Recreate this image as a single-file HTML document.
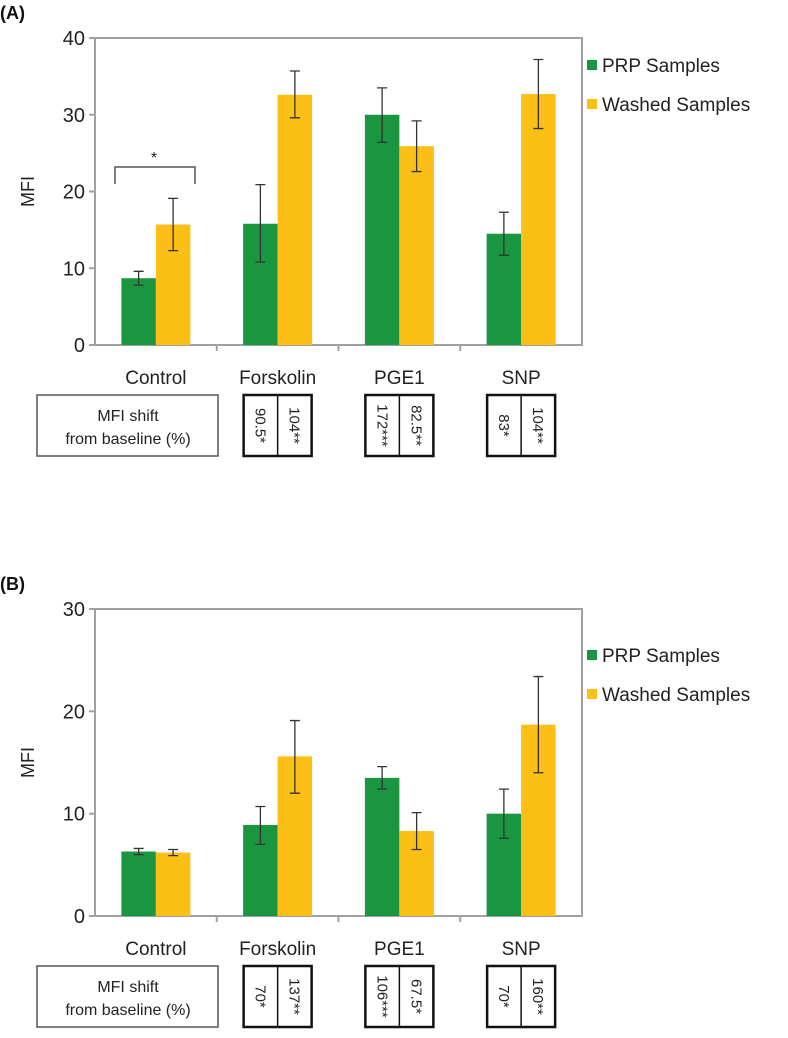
<!DOCTYPE html>
<html><head><meta charset="utf-8"><style>
body{margin:0;background:#fff;font-family:"Liberation Sans",Arial,sans-serif;}
svg text{font-family:"Liberation Sans",Arial,sans-serif;}
</style></head><body>
<svg id="s" width="788" height="1033" viewBox="0 0 788 1033"></svg>
<script>
const categories=["Control","Forskolin","PGE1","SNP"];
const aPrp=[8.7,15.8,30,14.5];
const aPrpLo=[7.8,10.8,26.4,11.7];
const aPrpHi=[9.6,20.9,33.5,17.3];
const aWash=[15.7,32.6,25.9,32.7];
const aWashLo=[12.3,29.6,22.6,28.2];
const aWashHi=[19.1,35.7,29.2,37.2];
const aTicks=[0,10,20,30,40];
const aShiftPrp=["90.5*","172***","83*"];
const aShiftWash=["104**","82.5**","104**"];
const bPrp=[6.3,8.9,13.5,10];
const bPrpLo=[6.0,7.0,12.4,7.6];
const bPrpHi=[6.6,10.7,14.6,12.4];
const bWash=[6.2,15.6,8.3,18.7];
const bWashLo=[5.9,12.0,6.5,14.0];
const bWashHi=[6.5,19.1,10.1,23.4];
const bTicks=[0,10,20,30];
const bShiftPrp=["70*","106***","70*"];
const bShiftWash=["137**","67.5*","160**"];

const svg=document.getElementById('s');
const NS='http://www.w3.org/2000/svg';
function mk(tag,attrs,parent){const e=document.createElementNS(NS,tag);for(const k in attrs)e.setAttribute(k,attrs[k]);(parent||svg).appendChild(e);return e;}

function panel(o){
  const g=mk('g',{});
  
  
  const x0=95,x1=582,top=o.top,bot=o.bot,max=o.ticks[o.ticks.length-1];
  const y=v=>bot-(v/max)*(bot-top);
  const cw=(x1-x0)/categories.length, bw=34.5;
  const lbl=mk('text',{x:0,y:top-19,'font-size':18,'font-weight':'bold',fill:'#111'},g);lbl.textContent=o.label;
  
  const fr=mk('rect',{x:x0,y:top,width:x1-x0,height:bot-top,fill:'none',stroke:'#a0a0a0','stroke-width':2},g);
  
  o.ticks.forEach(t=>{
    mk('line',{x1:x0-6,x2:x0,y1:y(t),y2:y(t),stroke:'#a0a0a0','stroke-width':2},g);
    const tx=mk('text',{x:x0-10,y:y(t)+7,'font-size':20,'text-anchor':'end',fill:'#222'},g);tx.textContent=t;
    
  });
  const yt=mk('text',{x:0,y:0,'font-size':18,'text-anchor':'middle',fill:'#222',transform:`translate(34,${(top+bot)/2}) rotate(-90)`},g);yt.textContent='MFI';
  
  for(let i=1;i<categories.length;i++)mk('line',{x1:x0+cw*i,x2:x0+cw*i,y1:bot,y2:bot+6,stroke:'#a0a0a0','stroke-width':2},g);
  categories.forEach((c,i)=>{
    const cx=x0+cw*(i+0.5);
    [[o.prp,o.prpLo,o.prpHi,'#1a9641',cx-bw,'prp'],[o.wash,o.washLo,o.washHi,'#fbbf16',cx,'washed']].forEach(s=>{
      const r=mk('rect',{x:s[4],y:y(s[0][i]),width:bw,height:bot-y(s[0][i]),fill:s[3]},g);
      
      const ex=s[4]+bw/2;
      const eb=mk('path',{d:`M${ex},${y(s[2][i])}V${y(s[1][i])}M${ex-5},${y(s[2][i])}H${ex+5}M${ex-5},${y(s[1][i])}H${ex+5}`,stroke:'#333','stroke-width':1.3,fill:'none'},g);
      
    });
    const t=mk('text',{x:cx,y:bot+39,'font-size':19,'text-anchor':'middle',fill:'#222'},g);t.textContent=c;
    
  });
  [['PRP Samples','#1a9641',0],['Washed Samples','#fbbf16',1]].forEach(l=>{
    const ly=o.legY+l[2]*39;
    mk('rect',{x:587,y:ly,width:10,height:10,fill:l[1]},g);
    const t=mk('text',{x:602,y:ly+12,'font-size':19,fill:'#222'},g);t.textContent=l[0];
    
  });
  const by=bot+50,bh=61;
  const hb=mk('rect',{x:37,y:by,width:181,height:bh,fill:'none',stroke:'#555','stroke-width':1.5},g);
  
  const h1=mk('text',{x:128,y:by+26,'font-size':16,'text-anchor':'middle',fill:'#222'},g);h1.textContent='MFI shift';
  const h2=mk('text',{x:128,y:by+49,'font-size':16,'text-anchor':'middle',fill:'#222'},g);h2.textContent='from baseline (%)';
  for(let k=0;k<3;k++){
    const cx=x0+cw*(k+1.5);
    const bx=cx-34;
    const b=mk('rect',{x:bx,y:by,width:68,height:bh,fill:'none',stroke:'#111','stroke-width':2.5},g);
    
    mk('line',{x1:cx,x2:cx,y1:by,y2:by+bh,stroke:'#111','stroke-width':1.5},g);
    [[o.sp[k],bx+17],[o.sw[k],cx+17]].forEach(v=>{
      const t=mk('text',{x:0,y:0,'font-size':15,'text-anchor':'middle',fill:'#222',transform:`translate(${v[1]-5},${by+bh/2}) rotate(90)`},g);t.textContent=v[0];
      
    });
  }
  return {y,x0,cw,bw,g};
}
const A=panel({id:'panel-a',label:'(A)',top:38,bot:345,ticks:aTicks,prp:aPrp,prpLo:aPrpLo,prpHi:aPrpHi,wash:aWash,washLo:aWashLo,washHi:aWashHi,legY:60,sp:aShiftPrp,sw:aShiftWash});
const br=mk('path',{d:'M115,184V167H195V184',stroke:'#555','stroke-width':1.5,fill:'none'},A.g);

const st=mk('text',{x:154,y:163,'font-size':16,'text-anchor':'middle',fill:'#222'},A.g);st.textContent='*';

panel({id:'panel-b',label:'(B)',top:609,bot:916,ticks:bTicks,prp:bPrp,prpLo:bPrpLo,prpHi:bPrpHi,wash:bWash,washLo:bWashLo,washHi:bWashHi,legY:650,sp:bShiftPrp,sw:bShiftWash});
</script>
</body></html>
